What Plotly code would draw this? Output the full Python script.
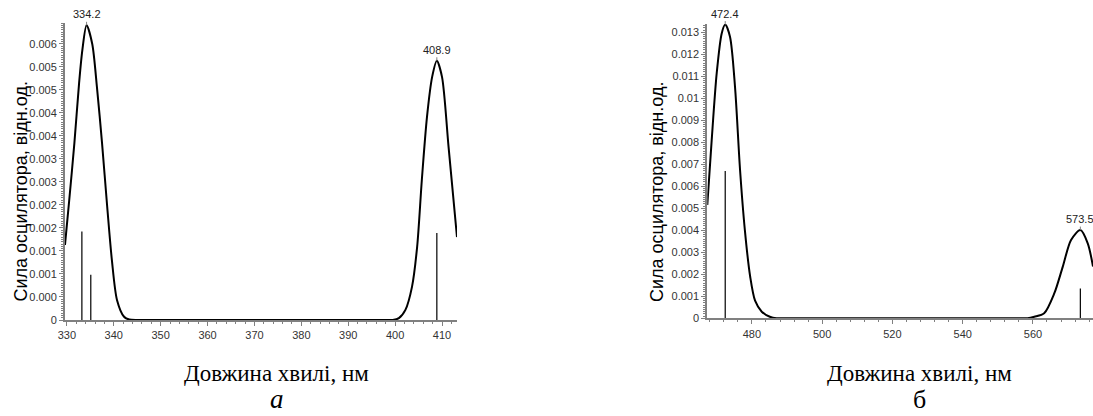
import plotly.graph_objects as go

W, H = 1093, 416

# ---- panel (а): oscillator-strength spectrum, 330–413 nm ----
a_curve_nm = [329.6, 330.5, 331.6, 332.6, 333.3, 334.2, 335.4, 336.4, 337.5, 338.6,
              339.6, 340.7, 342.2, 343.3, 345.0, 346.5, 398.0, 399.5,
              400.8, 402.2, 403.6, 404.7, 405.7, 406.8, 407.9, 408.9, 410.0, 411.4, 413.2]
a_curve_f = [0.00163, 0.0026, 0.00384, 0.00514, 0.00586, 0.0064, 0.0060, 0.00507, 0.00384, 0.00246,
             0.0013, 0.00043, 0.00007, 0.00001, 0.0, 0.0, 0.0, 0.0,
             0.00004, 0.00022, 0.00072, 0.00159, 0.00304, 0.00441, 0.00528, 0.00563, 0.00528, 0.00376, 0.0018]
a_stick_nm = [333.2, 335.1, 408.9]
a_stick_f = [0.00192, 0.00098, 0.00189]
a_peak_nm = [334.2, 408.9]
a_peak_f = [0.0064, 0.00563]
a_xticks = [330, 340, 350, 360, 370, 380, 390, 400, 410]
a_yticks = [0, 0.0005, 0.001, 0.0015, 0.002, 0.0025, 0.003, 0.0035, 0.004, 0.0045, 0.005, 0.0055, 0.006]
a_yticktext = ["0", "0.000", "0.001", "0.001", "0.002", "0.002", "0.003", "0.003",
               "0.004", "0.004", "0.005", "0.005", "0.006"]

# ---- panel (б): oscillator-strength spectrum, 467–577 nm ----
b_curve_nm = [467.3, 468.55, 469.98, 471.4, 472.4, 473.76, 475.2, 476.6, 478.0, 479.5,
              480.9, 482.8, 485.1, 487.0, 488.5, 557.0, 558.5,
              560.4, 563.2, 566.1, 568.5, 570.85, 573.5, 575.6, 577.1]
b_curve_f = [0.00515, 0.0081, 0.01114, 0.01295, 0.01335, 0.0128, 0.0105, 0.0068, 0.0040, 0.0019,
             0.0008, 0.0003, 0.00007, 0.0, 0.0, 0.0, 0.0,
             0.00007, 0.00023, 0.00114, 0.00235, 0.00356, 0.00401, 0.00341, 0.00235]
b_stick_nm = [472.4, 573.5]
b_stick_f = [0.0067, 0.00136]
b_peak_nm = [472.4, 573.5]
b_peak_f = [0.01335, 0.00401]
b_xticks = [480, 500, 520, 540, 560]
b_yticks = [0, 0.001, 0.002, 0.003, 0.004, 0.005, 0.006, 0.007, 0.008, 0.009, 0.01, 0.011, 0.012, 0.013]
b_yticktext = ["0", "0.001", "0.002", "0.003", "0.004", "0.005", "0.006", "0.007",
               "0.008", "0.009", "0.01", "0.011", "0.012", "0.013"]

y_title = "Сила осцилятора, відн.од."
x_title = "Довжина хвилі, нм"

AXIS = "#808080"
TICKFONT = dict(family="Liberation Sans, Arial", size=11, color="#333333")


def sticks(xs, ys):
    sx, sy = [], []
    for x, y in zip(xs, ys):
        sx += [x, x, None]
        sy += [0, y, None]
    return sx, sy


fig = go.Figure()

for cx, cy, stx, sty, xa, ya in [
    (a_curve_nm, a_curve_f, a_stick_nm, a_stick_f, "x", "y"),
    (b_curve_nm, b_curve_f, b_stick_nm, b_stick_f, "x2", "y2"),
]:
    sx, sy = sticks(stx, sty)
    fig.add_trace(go.Scatter(x=sx, y=sy, mode="lines", xaxis=xa, yaxis=ya,
                             line=dict(color="black", width=1.2), hoverinfo="skip"))
    fig.add_trace(go.Scatter(x=cx, y=cy, mode="lines", xaxis=xa, yaxis=ya,
                             line=dict(color="black", width=2, shape="spline", smoothing=0.8)))


def xaxis(domain, rng, ticks, anchor, minor_dt):
    return dict(domain=domain, range=rng, anchor=anchor, tickvals=ticks, automargin=False,
                showline=True, linecolor=AXIS, linewidth=2, ticks="outside", ticklen=4,
                tickcolor=AXIS, tickwidth=1, tickfont=TICKFONT, showgrid=False, zeroline=False,
                minor=dict(dtick=minor_dt, ticks="outside", ticklen=2, tickcolor=AXIS))


def yaxis(domain, rng, ticks, text, anchor):
    return dict(domain=domain, range=rng, anchor=anchor, tickvals=ticks, ticktext=text,
                automargin=False,
                showline=True, linecolor=AXIS, linewidth=2, ticks="outside", ticklen=4,
                tickcolor=AXIS, tickwidth=1, tickfont=TICKFONT, showgrid=False, zeroline=False,
                minor=dict(ticks="outside", ticklen=2, tickcolor=AXIS, nticks=30))


fig.update_layout(
    width=W, height=H, margin=dict(l=0, r=0, t=0, b=0, autoexpand=False),
    paper_bgcolor="white", plot_bgcolor="white", showlegend=False,
    xaxis=xaxis([65 / W, 457 / W], [329.6, 413.2], a_xticks, "y", 2),
    yaxis=yaxis([1 - 320 / H, 1 - 23 / H], [0, 0.00645], a_yticks, a_yticktext, "x"),
    xaxis2=xaxis([707.3 / W, 1.0], [467.3, 577.1], b_xticks, "y2", 4),
    yaxis2=yaxis([1 - 318.3 / H, 1 - 24 / H], [0, 0.013377], b_yticks, b_yticktext, "x2"),
)

ann = []
# peak position labels
for xs, ys, xr, yr in [(a_peak_nm, a_peak_f, "x", "y"), (b_peak_nm, b_peak_f, "x2", "y2")]:
    for x, y in zip(xs, ys):
        ann.append(dict(x=x, y=y, xref=xr, yref=yr, text=f"{x:.1f}", showarrow=True,
                        arrowhead=0, arrowwidth=1, arrowcolor=AXIS, ax=0, ay=-11,
                        font=dict(family="Liberation Sans, Arial", size=11, color="#222222")))

# axis titles and panel letters
serif = "Liberation Serif, Times New Roman"
for cx in (276.7, 919):
    ann.append(dict(x=cx / W, y=1 - 373 / H, xref="paper", yref="paper", text=x_title,
                    xanchor="center", yanchor="middle", showarrow=False,
                    font=dict(family=serif, size=23, color="black")))
for cx in (20.5, 657):
    ann.append(dict(x=cx / W, y=1 - 192 / H, xref="paper", yref="paper", text=y_title,
                    textangle=-90, xanchor="center", yanchor="middle", showarrow=False,
                    font=dict(family="Liberation Sans, Arial", size=18, color="black")))
ann.append(dict(x=276.7 / W, y=0, xref="paper", yref="paper", text="<i>а</i>",
                xanchor="center", yanchor="bottom", showarrow=False,
                font=dict(family=serif, size=27, color="black")))
ann.append(dict(x=919 / W, y=0, xref="paper", yref="paper", text="б",
                xanchor="center", yanchor="bottom", showarrow=False,
                font=dict(family=serif, size=26, color="black")))
fig.update_layout(annotations=ann)

fig.write_html("out.html")
